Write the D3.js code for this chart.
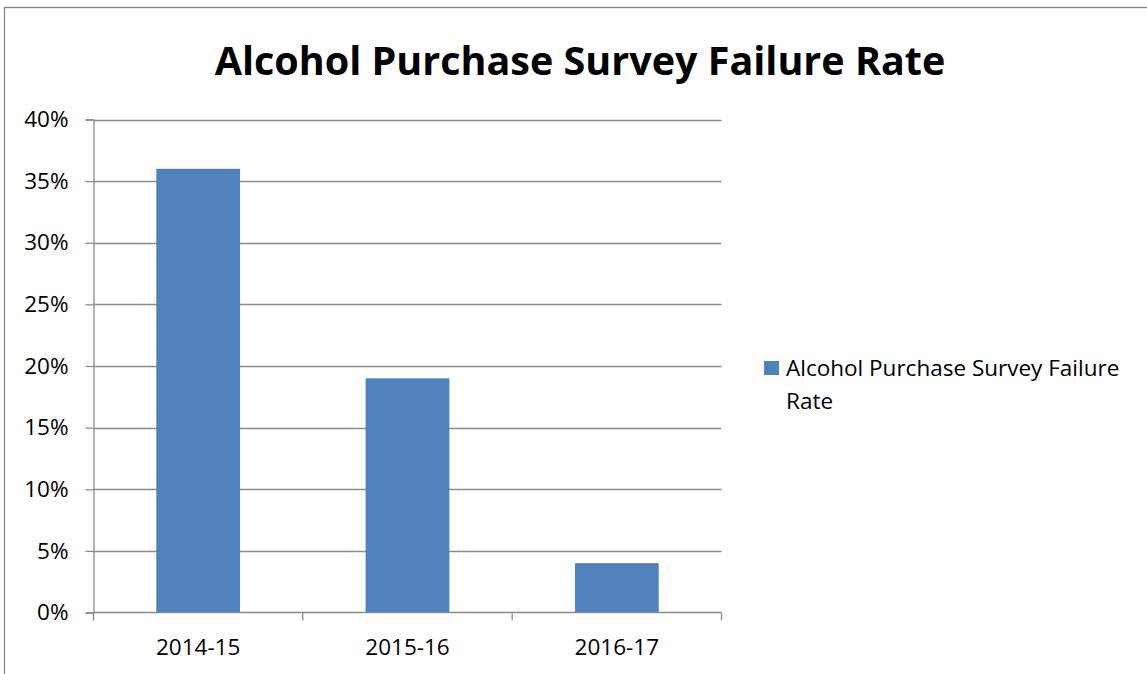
<!doctype html>
<html lang="en">
<head>
    <meta charset="utf-8">
    <title>Alcohol Purchase Survey Failure Rate</title>
    <script src="https://cdnjs.cloudflare.com/ajax/libs/d3/7.8.5/d3.min.js"></script>
    <style>
        body { margin: 0; background: #fff; }
        svg { display: block; font-family: "Open Sans", sans-serif; }
    </style>
</head>
<body>
    <svg></svg>
    <script>
        var width = 1147;
        var height = 674;

        var categories = ['2014-15', '2015-16', '2016-17'];
        var values = [0.36, 0.19, 0.04];
        var yTicks = [0, 0.05, 0.10, 0.15, 0.20, 0.25, 0.30, 0.35, 0.40];
        var seriesName = 'Alcohol Purchase Survey Failure Rate';
        var title = 'Alcohol Purchase Survey Failure Rate';

        var plot = { left: 93.5, right: 721.5, top: 119.5, bottom: 612.5 };
        var labelSize = 22.5;

        var svg = d3.select('svg').attr('width', width).attr('height', height);

        // outer chart border
        svg.append('rect')
            .attr('x', 4.5).attr('y', 7.5)
            .attr('width', 1150).attr('height', 700)
            .attr('fill', '#fff')
            .attr('stroke', '#868686').attr('stroke-width', 1.3);

        var xScale = d3.scaleBand()
            .domain(categories)
            .range([plot.left, plot.right])
            .paddingInner(0.6).paddingOuter(0.3);
        var yScale = d3.scaleLinear()
            .domain([0, 0.4])
            .range([plot.bottom, plot.top]);

        // gridlines
        svg.append('g')
            .selectAll('line')
            .data(yTicks.slice(1))
            .enter()
            .append('line')
            .attr('x1', plot.left).attr('x2', plot.right)
            .attr('y1', function (d) { return Math.round(yScale(d)) + 0.5; })
            .attr('y2', function (d) { return Math.round(yScale(d)) + 0.5; })
            .attr('stroke', '#8c8c8c').attr('stroke-width', 1.3);

        // bars
        svg.selectAll('rect.bar')
            .data(values)
            .enter()
            .append('rect')
            .attr('class', 'bar')
            .attr('x', function (d, i) { return xScale(categories[i]); })
            .attr('width', xScale.bandwidth())
            .attr('y', function (d) { return yScale(d); })
            .attr('height', function (d) { return yScale(0) - yScale(d); })
            .attr('fill', '#4f81bd');

        // y axis
        var yAxis = d3.axisLeft(yScale)
            .tickValues(yTicks)
            .tickFormat(d3.format('.0%'))
            .tickSize(8)
            .tickPadding(17);
        var gy = svg.append('g')
            .attr('transform', 'translate(' + plot.left + ',0)')
            .call(yAxis);
        gy.select('.domain').attr('stroke', '#8c8c8c').attr('stroke-width', 1.3);
        gy.selectAll('.tick line').attr('stroke', '#8c8c8c').attr('stroke-width', 1.3);
        gy.selectAll('.tick text')
            .attr('font-size', labelSize).attr('fill', '#000')
            .attr('font-family', '"Open Sans", sans-serif');

        // x axis: ticks at category boundaries
        var boundaries = [plot.left].concat(categories.map(function (c) {
            return xScale(c) + xScale.bandwidth() / 2 + xScale.step() / 2;
        }));
        svg.append('line')
            .attr('x1', plot.left).attr('x2', plot.right)
            .attr('y1', plot.bottom).attr('y2', plot.bottom)
            .attr('stroke', '#8c8c8c').attr('stroke-width', 1.3);
        svg.append('g')
            .selectAll('line')
            .data(boundaries)
            .enter()
            .append('line')
            .attr('x1', function (d) { return d; }).attr('x2', function (d) { return d; })
            .attr('y1', plot.bottom).attr('y2', plot.bottom + 8)
            .attr('stroke', '#8c8c8c').attr('stroke-width', 1.3);
        svg.append('g')
            .selectAll('text')
            .data(categories)
            .enter()
            .append('text')
            .attr('x', function (d) { return xScale(d) + xScale.bandwidth() / 2; })
            .attr('y', 655)
            .attr('text-anchor', 'middle')
            .attr('font-size', labelSize)
            .text(function (d) { return d; });

        // title
        svg.append('text')
            .attr('x', 580).attr('y', 75)
            .attr('text-anchor', 'middle')
            .attr('font-size', 39.5)
            .attr('font-weight', 'bold')
            .text(title);

        // legend
        var legend = svg.append('g');
        legend.append('rect')
            .attr('x', 764).attr('y', 361)
            .attr('width', 15).attr('height', 14)
            .attr('fill', '#4f81bd');
        legend.append('text')
            .attr('x', 786).attr('y', 376)
            .attr('font-size', labelSize)
            .text('Alcohol Purchase Survey Failure');
        legend.append('text')
            .attr('x', 786).attr('y', 409)
            .attr('font-size', labelSize)
            .text('Rate');
    </script>
</body>
</html>
